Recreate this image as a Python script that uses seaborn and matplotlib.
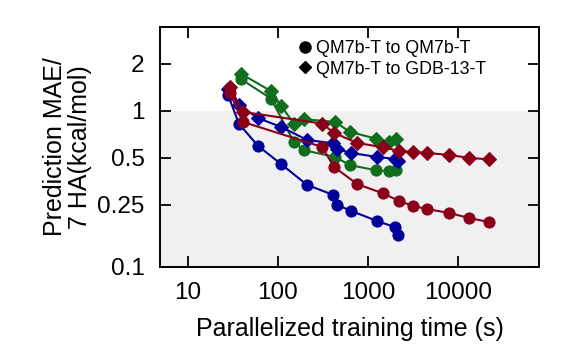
import numpy as np
import pandas as pd
import matplotlib
matplotlib.use('Agg')
import matplotlib.pyplot as plt
from matplotlib.lines import Line2D
import seaborn as sns

# training times (s), one list per model (colour)
blue_t = [27.8, 36.9, 60, 108, 210, 408, 452, 647, 1259, 1995, 2154]
blue_self = [1.27, 0.826, 0.597, 0.457, 0.336, 0.29, 0.25, 0.229, 0.197, 0.18, 0.16]
blue_gdb = [1.38, 1.09, 0.90, 0.79, 0.652, 0.62, 0.57, 0.538, 0.507, 0.492, 0.478]

red_t = [29.3, 40.8, 308, 419, 755, 1468, 2210, 3162, 4525, 7943, 13250, 22100]
red_self = [1.30, 0.85, 0.588, 0.438, 0.34, 0.296, 0.265, 0.246, 0.235, 0.222, 0.206, 0.194]
red_gdb = [1.42, 0.985, 0.83, 0.723, 0.624, 0.584, 0.554, 0.546, 0.538, 0.522, 0.50, 0.489]

green_t_gdb = [38.8, 83.6, 108, 150, 194, 430, 631, 1227, 1711, 2047]
green_gdb = [1.73, 1.34, 1.08, 0.83, 0.885, 0.85, 0.733, 0.664, 0.633, 0.664]
green_t_self = [38.8, 83.6, 150, 194, 430, 631, 1227, 1711, 2047]
green_self = [1.6, 1.2, 0.633, 0.56, 0.507, 0.449, 0.417, 0.41, 0.417]

legend_labels = ['QM7b-T to QM7b-T', 'QM7b-T to GDB-13-T']
x_ticks = [10, 100, 1000, 10000]
y_ticks = [0.1, 0.25, 0.5, 1, 2]

BLUE = '#00009a'
RED = '#8a0019'
GREEN = '#106e1c'

sns.set_style('ticks')
plt.rcParams['font.family'] = ['Liberation Sans', 'DejaVu Sans']
plt.rcParams['text.color'] = 'black'
plt.rcParams['axes.labelcolor'] = 'black'
plt.rcParams['xtick.color'] = 'black'
plt.rcParams['ytick.color'] = 'black'

fig = plt.figure(figsize=(5.81, 3.49), dpi=100)
ax = fig.add_axes([0.2754, 0.235, 0.6523, 0.6877])

ax.axhspan(0.1, 1, color='#f0f0f0', zorder=0, lw=0)

series = [
    (green_t_gdb, green_gdb, GREEN, 'D'),
    (green_t_self, green_self, GREEN, 'o'),
    (blue_t, blue_gdb, BLUE, 'D'),
    (blue_t, blue_self, BLUE, 'o'),
    (red_t, red_gdb, RED, 'D'),
    (red_t, red_self, RED, 'o'),
]
for t, mae, col, mk in series:
    ms = 8 if mk == 'o' else 6.8
    sns.lineplot(x=t, y=mae, ax=ax, color=col, marker=mk, markersize=ms,
                 markeredgecolor=col, linewidth=1.5, estimator=None, sort=False)

ax.set_xscale('log')
ax.set_yscale('log')
ax.set_xlim(4.9, 79000)
ax.set_ylim(0.1, 3.45)
ax.set_xticks(x_ticks)
ax.set_xticklabels([str(v) for v in x_ticks])
ax.set_yticks(y_ticks)
ax.set_yticklabels(['0.1', '0.25', '0.5', '1', '2'])
ax.minorticks_off()
ax.tick_params(direction='in', length=8, width=1.3, top=True, right=True,
               labelsize=17.5, pad=11)
for s in ax.spines.values():
    s.set_linewidth(1.4)
    s.set_color('black')

ax.set_xlabel('Parallelized training time (s)', fontsize=18)
ax.xaxis.set_label_coords(0.5, -0.21)
ax.set_ylabel('Prediction MAE/\n7 HA(kcal/mol)', fontsize=18, linespacing=1.05)
ax.yaxis.set_label_coords(-0.18, 0.5)

handles = [Line2D([], [], marker='o', color='k', ls='none', markersize=8),
           Line2D([], [], marker='D', color='k', ls='none', markersize=6.3)]
ax.legend(handles, legend_labels, loc='upper left', bbox_to_anchor=(0.35, 0.975),
          frameon=False, fontsize=12.8, handlelength=0.6, handletextpad=0.3,
          labelspacing=0.2, borderaxespad=0)

fig.savefig('out.png', dpi=100)
